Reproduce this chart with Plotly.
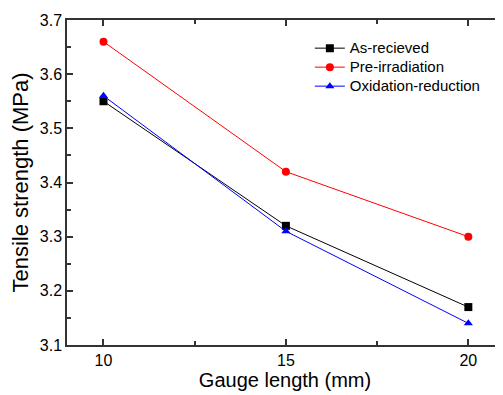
import plotly.graph_objects as go

gauge_length = [10, 15, 20]
as_received = [3.55, 3.32, 3.17]
pre_irradiation = [3.66, 3.42, 3.30]
oxidation_reduction = [3.56, 3.31, 3.14]

series = [
    ("As-recieved", as_received, "black", "square"),
    ("Pre-irradiation", pre_irradiation, "red", "circle"),
    ("Oxidation-reduction", oxidation_reduction, "blue", "triangle-up"),
]

fig = go.Figure()
for name, vals, color, sym in series:
    fig.add_trace(go.Scatter(
        x=gauge_length, y=vals, mode="lines+markers",
        name='<span style="font-size:15px">' + name + "</span>",
        line=dict(color=color, width=1),
        marker=dict(color=color, symbol=sym, size=8),
    ))

font = "Arial, Liberation Sans, sans-serif"
# the page body adds an 8px offset, so the figure is 8px smaller
fig.update_layout(
    width=495, height=387,
    margin=dict(l=59, r=0, t=12, b=50),
    plot_bgcolor="white", paper_bgcolor="white",
    font=dict(family=font, color="black", size=16),
    legend=dict(x=0.557, y=0.958, xanchor="left", yanchor="top",
                bgcolor="rgba(0,0,0,0)", font=dict(size=12, family=font),
                tracegroupgap=0, itemwidth=30),
    showlegend=True,
)
fig.update_xaxes(
    range=[9, 20.95], tickvals=[10, 15, 20], ticks="inside", ticklen=6,
    tickwidth=1.5, tickcolor="#333", showline=True, linecolor="#333",
    linewidth=1.5, mirror="ticks", showgrid=False, zeroline=False,
    minor=dict(tickvals=[12.5, 17.5], ticks="inside", ticklen=4,
               tickwidth=1.5, tickcolor="#333"),
    title=dict(text="Gauge length (mm)", font=dict(size=20, family=font), standoff=4),
    tickfont=dict(size=16, family=font),
)
fig.update_yaxes(
    range=[3.1, 3.7], dtick=0.1, tickformat=".1f", ticks="inside", ticklen=6,
    tickwidth=1.5, tickcolor="#333", showline=True, linecolor="#333",
    linewidth=1.5, mirror=False, showgrid=False, zeroline=False,
    minor=dict(dtick=0.05, ticks="inside", ticklen=4, tickwidth=1.5,
               tickcolor="#333"),
    title=dict(text="Tensile strength (MPa)", font=dict(size=22, family=font), standoff=6),
    tickfont=dict(size=16, family=font),
)

fig.write_html("out.html")
